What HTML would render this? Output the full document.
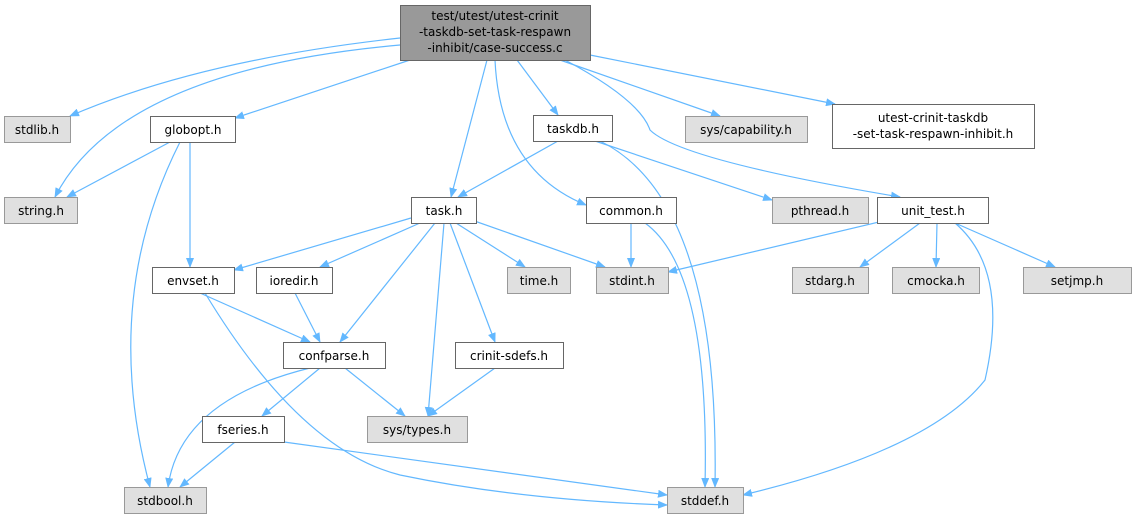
<!DOCTYPE html>
<html><head><meta charset="utf-8"><style>
html,body{margin:0;padding:0;background:#fff;}
svg text{font-family:"DejaVu Sans","Liberation Sans",sans-serif;font-size:12px;fill:#000;}
</style></head><body>
<svg width="1136" height="520" viewBox="0 0 1136 520" xmlns="http://www.w3.org/2000/svg">
<defs><marker id="a" markerWidth="10" markerHeight="8" refX="9" refY="4" orient="auto" markerUnits="userSpaceOnUse"><path d="M0,0 L10,4 L0,8 z" fill="#63b8ff"/></marker></defs>
<g fill="none" stroke="#63b8ff" stroke-width="1.2" marker-end="url(#a)">
<path d="M400,38 Q200,60 70,116"/>
<path d="M400,45 Q120,70 55,197"/>
<path d="M410,60 L235,118"/>
<path d="M487,60 L451,197"/>
<path d="M495,60 Q500,170 586,205"/>
<path d="M517,60 L558,115"/>
<path d="M560,60 L720,116"/>
<path d="M590,55 L835,104"/>
<path d="M565,60 Q640,100 650,130 Q680,160 900,197"/>
<path d="M170,142 L67,197"/>
<path d="M180,142 Q100,300 150,487"/>
<path d="M190,142 L190,267"/>
<path d="M558,141 L458,197"/>
<path d="M595,141 L772,200"/>
<path d="M600,141 Q720,200 715,487"/>
<path d="M411,218 L234,270"/>
<path d="M420,223 L320,267"/>
<path d="M435,223 L340,342"/>
<path d="M444,223 L428,416"/>
<path d="M450,223 L495,342"/>
<path d="M456,223 L525,267"/>
<path d="M466,218 L605,267"/>
<path d="M631,223 L631,267"/>
<path d="M645,223 Q710,270 705,487"/>
<path d="M900,217 L668,272"/>
<path d="M920,223 L860,267"/>
<path d="M937,223 L936,267"/>
<path d="M955,223 L1055,267"/>
<path d="M955,223 Q1010,270 985,380 Q930,450 743,495"/>
<path d="M200,293 L310,342"/>
<path d="M295,293 L320,342"/>
<path d="M205,293 Q300,450 400,475 Q520,500 667,505"/>
<path d="M310,368 Q180,400 168,487"/>
<path d="M320,368 L262,416"/>
<path d="M345,368 L405,416"/>
<path d="M495,368 L428,416"/>
<path d="M235,442 L180,487"/>
<path d="M284,442 L667,495"/>
</g>
<g stroke-width="1">
<rect x="400.5" y="5.5" width="190" height="55" fill="#999" stroke="#666"/>
<g fill="#e0e0e0" stroke="#999">
<rect x="4.5" y="116.5" width="66" height="26"/>
<rect x="4.5" y="197.5" width="73" height="26"/>
<rect x="685.5" y="116.5" width="122" height="26"/>
<rect x="772.5" y="197.5" width="96" height="26"/>
<rect x="507.5" y="267.5" width="63" height="26"/>
<rect x="596.5" y="267.5" width="72" height="26"/>
<rect x="792.5" y="267.5" width="76" height="26"/>
<rect x="892.5" y="267.5" width="87" height="26"/>
<rect x="1023.5" y="267.5" width="108" height="26"/>
<rect x="367.5" y="416.5" width="100" height="26"/>
<rect x="124.5" y="487.5" width="82" height="26"/>
<rect x="667.5" y="487.5" width="76" height="26"/>
</g>
<g fill="#fff" stroke="#666">
<rect x="150.5" y="116.5" width="85" height="26"/>
<rect x="533.5" y="115.5" width="79" height="26"/>
<rect x="832.5" y="104.5" width="202" height="44"/>
<rect x="411.5" y="197.5" width="65" height="26"/>
<rect x="586.5" y="197.5" width="90" height="26"/>
<rect x="877.5" y="197.5" width="111" height="26"/>
<rect x="152.5" y="267.5" width="82" height="26"/>
<rect x="256.5" y="267.5" width="76" height="26"/>
<rect x="283.5" y="342.5" width="102" height="26"/>
<rect x="455.5" y="342.5" width="108" height="26"/>
<rect x="202.5" y="416.5" width="82" height="26"/>
</g>
</g>
<g text-anchor="middle">
<text x="495" y="20">test/utest/utest-crinit</text>
<text x="495" y="36">-taskdb-set-task-respawn</text>
<text x="495" y="52">-inhibit/case-success.c</text>
<text x="37" y="134">stdlib.h</text>
<text x="41" y="215">string.h</text>
<text x="193" y="134">globopt.h</text>
<text x="573" y="133">taskdb.h</text>
<text x="746" y="134">sys/capability.h</text>
<text x="933" y="122">utest-crinit-taskdb</text>
<text x="933" y="138">-set-task-respawn-inhibit.h</text>
<text x="444" y="215">task.h</text>
<text x="631" y="215">common.h</text>
<text x="820" y="215">pthread.h</text>
<text x="933" y="215">unit_test.h</text>
<text x="193" y="285">envset.h</text>
<text x="294" y="285">ioredir.h</text>
<text x="539" y="285">time.h</text>
<text x="632" y="285">stdint.h</text>
<text x="830" y="285">stdarg.h</text>
<text x="936" y="285">cmocka.h</text>
<text x="1077" y="285">setjmp.h</text>
<text x="334" y="360">confparse.h</text>
<text x="509" y="360">crinit-sdefs.h</text>
<text x="243" y="434">fseries.h</text>
<text x="417" y="434">sys/types.h</text>
<text x="165" y="505">stdbool.h</text>
<text x="705" y="505">stddef.h</text>
</g>
</svg>
</body></html>
